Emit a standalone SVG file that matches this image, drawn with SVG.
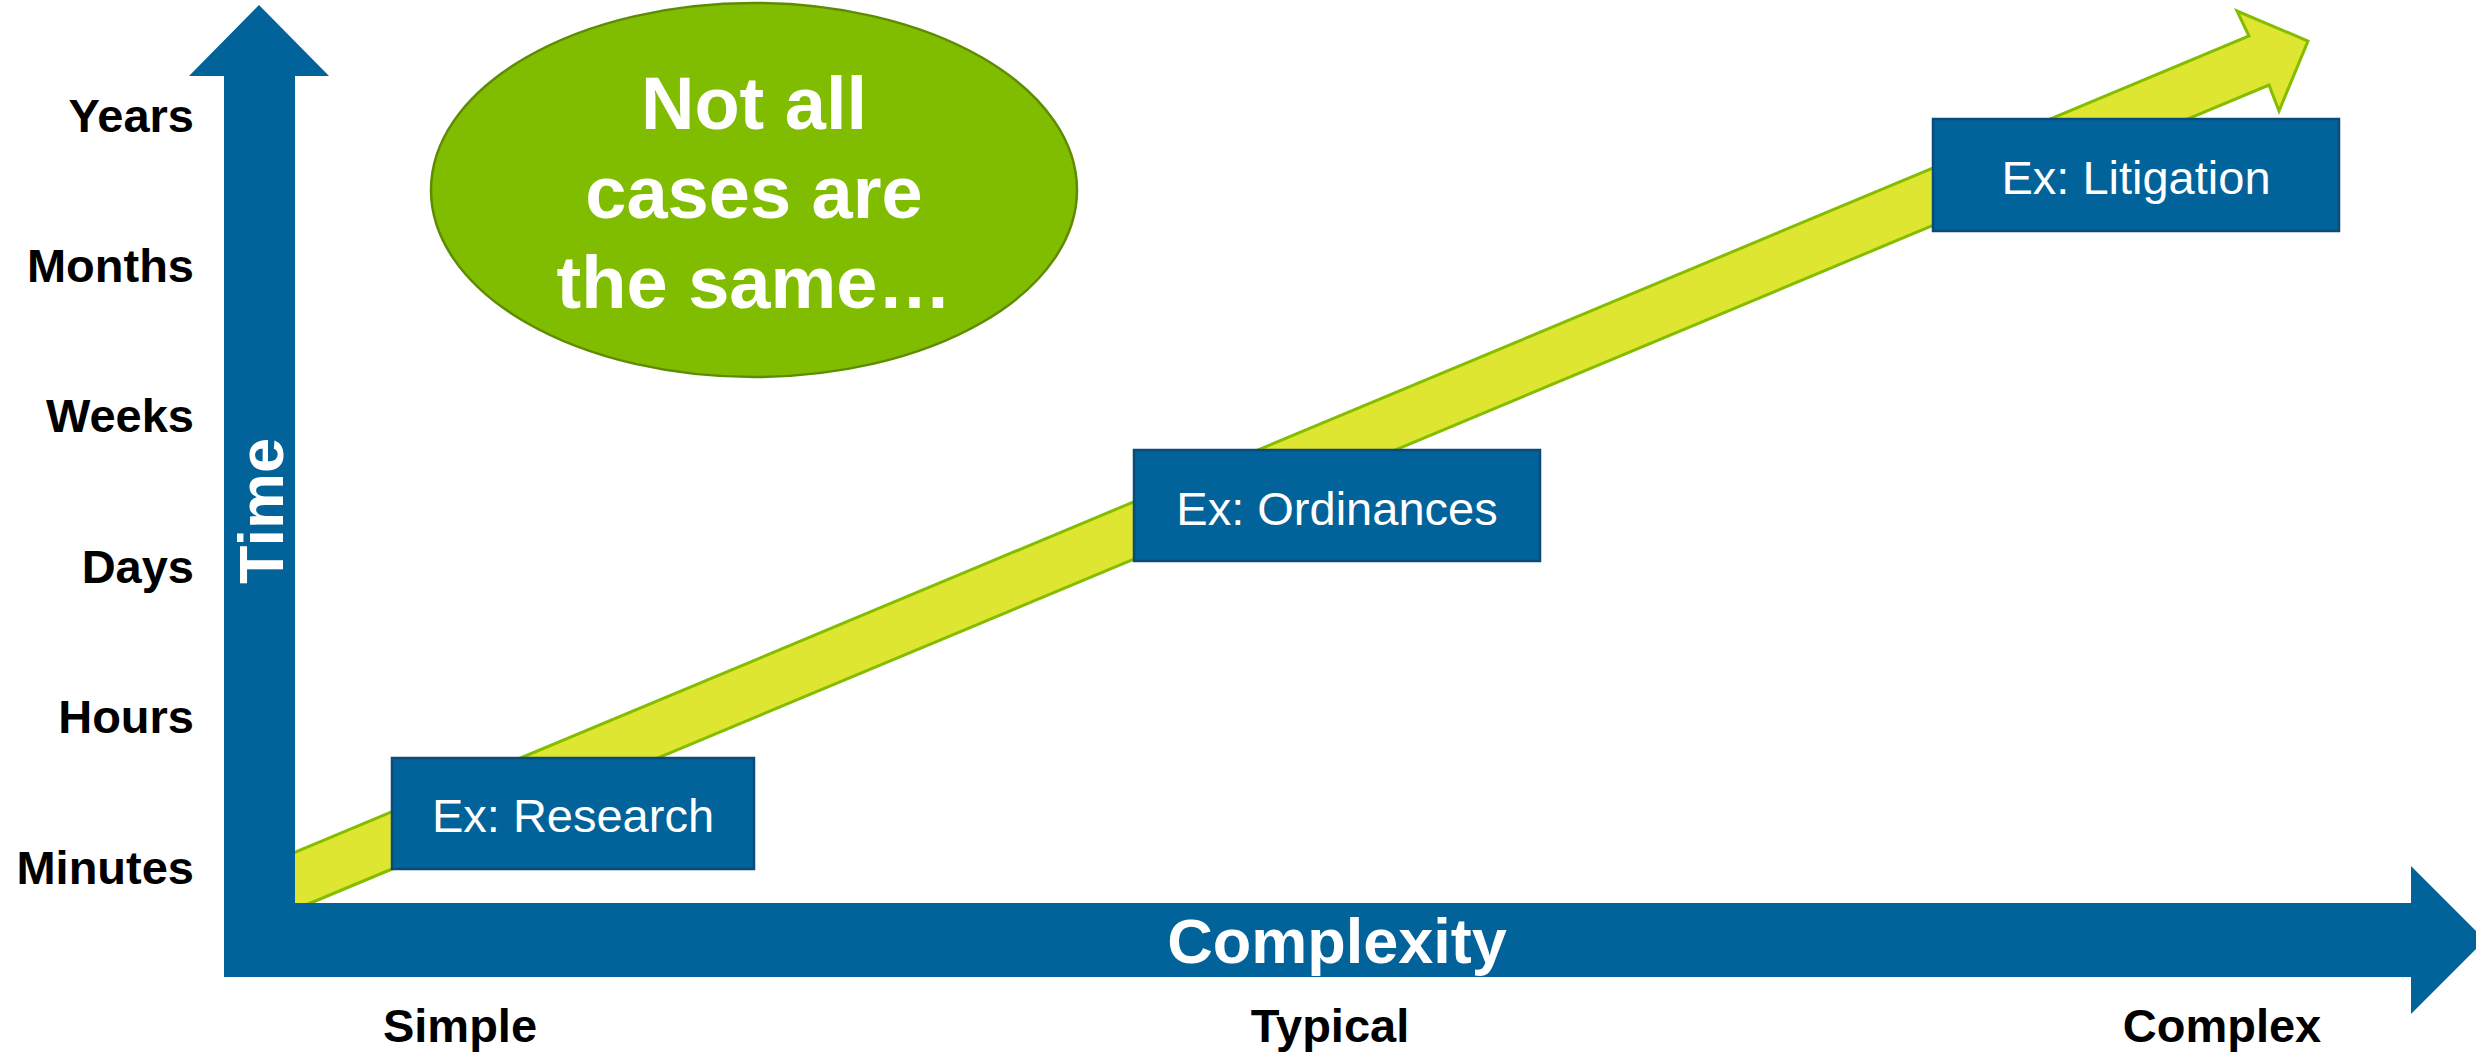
<svg xmlns="http://www.w3.org/2000/svg" width="2476" height="1052" viewBox="0 0 2476 1052">
<style>
text{font-family:"Liberation Sans",Arial,sans-serif;}
.lbl{font-size:47px;font-weight:bold;fill:#000;}
.axis{font-size:63px;font-weight:bold;fill:#fff;}
.box{fill:#02629A;stroke:#0B4B77;stroke-width:2.5;}
.boxt{font-size:47px;fill:#fff;text-anchor:middle;}
</style>
<rect width="2476" height="1052" fill="#fff"/>
<g id="trend">
<polygon points="250,871 2249,36 2237,11 2308,41 2279,111 2269,85 270,920" fill="#DFE632" stroke="#84BD00" stroke-width="3" stroke-linejoin="miter"/>
</g>
<g id="connectors">
<path id="axes" d="M224,977 L224,76 L189,76 L259,5 L329,76 L295,76 L295,903 L2411,903 L2411,866 L2485,940 L2411,1014 L2411,977 Z" fill="#02629A"/>
<text class="axis" x="1337" y="963" text-anchor="middle">Complexity</text>
<text class="axis" transform="translate(283,511) rotate(-90)" x="0" y="0" text-anchor="middle">Time</text>
</g>
<g id="ylabels" text-anchor="end">
<text class="lbl" x="194" y="132" text-anchor="end">Years</text>
<text class="lbl" x="194" y="282" text-anchor="end">Months</text>
<text class="lbl" x="194" y="432" text-anchor="end">Weeks</text>
<text class="lbl" x="194" y="583" text-anchor="end">Days</text>
<text class="lbl" x="194" y="733" text-anchor="end">Hours</text>
<text class="lbl" x="194" y="884" text-anchor="end">Minutes</text>
</g>
<g id="xlabels">
<text class="lbl" x="460" y="1042" text-anchor="middle">Simple</text>
<text class="lbl" x="1330" y="1042" text-anchor="middle">Typical</text>
<text class="lbl" x="2222" y="1042" text-anchor="middle">Complex</text>
</g>
<g id="callout">
<ellipse cx="754" cy="190" rx="323" ry="187" fill="#80BC00" stroke="#5E8C00" stroke-width="2.5"/>
<text x="754" y="129" text-anchor="middle" font-size="74" font-weight="bold" fill="#fff">Not all</text>
<text x="754" y="218" text-anchor="middle" font-size="74" font-weight="bold" fill="#fff">cases are</text>
<text x="754" y="308" text-anchor="middle" font-size="74" font-weight="bold" fill="#fff">the same…</text>
</g>
<g id="research">
<rect class="box" x="392" y="758" width="362" height="111"/>
<text class="boxt" x="573" y="832">Ex: Research</text>
</g>
<g id="ordinances">
<rect class="box" x="1134" y="450" width="406" height="111"/>
<text class="boxt" x="1337" y="525">Ex: Ordinances</text>
</g>
<g id="litigation">
<rect class="box" x="1933" y="119" width="406" height="112"/>
<text class="boxt" x="2136" y="194">Ex: Litigation</text>
</g>
</svg>
